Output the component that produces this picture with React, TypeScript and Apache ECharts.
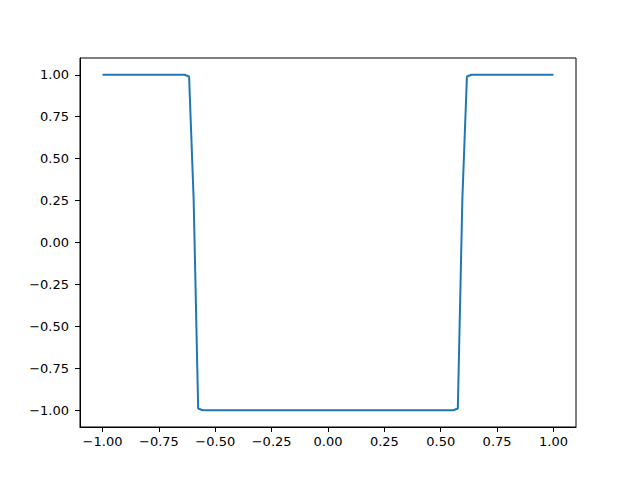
import React, { useEffect, useRef } from "react";
import * as echarts from "echarts";

const xValues = [-1.0, -0.6364, -0.6162, -0.596, -0.5758, -0.5556, 0.5556, 0.5758, 0.596, 0.6162, 0.6364, 1.0];
const yValues = [1.0, 1.0, 0.99, 0.26, -0.99, -1.0, -1.0, -0.99, 0.26, 0.99, 1.0, 1.0];
const xTicks = [-1, -0.75, -0.5, -0.25, 0, 0.25, 0.5, 0.75, 1];
const yTicks = [-1, -0.75, -0.5, -0.25, 0, 0.25, 0.5, 0.75, 1];

const fmt = (v: number) => v.toFixed(2).replace("-", "\u2212");

export default function App() {
  const ref = useRef<HTMLDivElement>(null);
  useEffect(() => {
    const chart = echarts.init(ref.current!, null, { renderer: "svg" });
    const font = "DejaVu Sans";
    chart.setOption({
      animation: false,
      grid: { left: 80, right: 64, top: 58, bottom: 53, show: true, borderColor: "#000", borderWidth: 1, backgroundColor: "transparent" },
      xAxis: {
        type: "value",
        min: -1.1,
        max: 1.1,
        splitLine: { show: false },
        axisLine: { show: true, onZero: false, lineStyle: { color: "#000" } },
        axisTick: { show: true, length: 5, lineStyle: { color: "#000" }, customValues: xTicks },
        axisLabel: {
          customValues: xTicks,
          formatter: fmt,
          color: "#000",
          fontFamily: font,
          fontSize: 13,
          margin: 8,
        },
      },
      yAxis: {
        type: "value",
        min: -1.1,
        max: 1.1,
        splitLine: { show: false },
        axisLine: { show: true, onZero: false, lineStyle: { color: "#000" } },
        axisTick: { show: true, length: 5, lineStyle: { color: "#000" }, customValues: yTicks },
        axisLabel: {
          customValues: yTicks,
          formatter: fmt,
          color: "#000",
          fontFamily: font,
          fontSize: 13,
          margin: 11,
        },
      },
      series: [
        {
          type: "line",
          data: xValues.map((x, i) => [x, yValues[i]]),
          showSymbol: false,
          lineStyle: { color: "#1f77b4", width: 2 },
          itemStyle: { color: "#1f77b4" },
        },
      ],
    });
    return () => chart.dispose();
  }, []);
  return <div ref={ref} style={{ width: 640, height: 480, position: "absolute", left: 0, top: 0 }} />;
}
